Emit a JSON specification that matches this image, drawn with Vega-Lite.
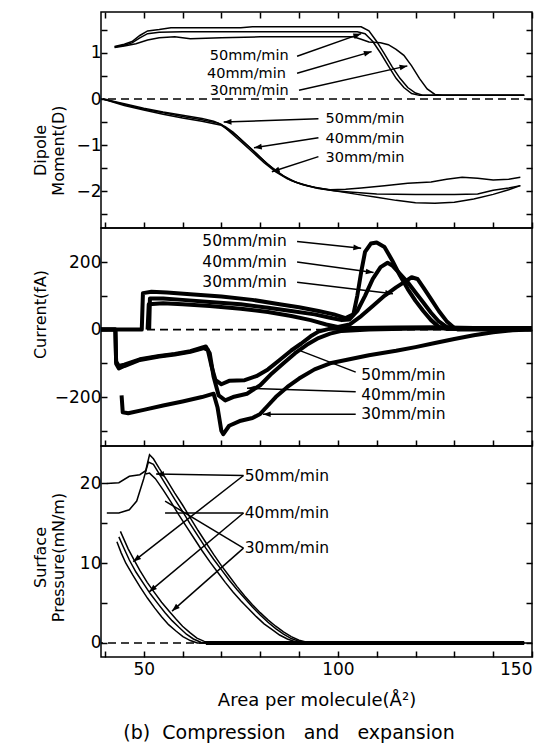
{
  "$schema": "https://vega.github.io/schema/vega-lite/v6.json",
  "autosize": {"type": "pad"},
  "padding": {"left": 31, "top": 10, "right": 10, "bottom": 10},
  "spacing": 0,
  "bounds": "flush",
  "title": {"text": "(b)\u00a0 Compression\u00a0\u00a0 and\u00a0\u00a0 expansion", "orient": "bottom", "anchor": "middle", "font": "DejaVu Sans", "fontSize": 19, "fontWeight": "normal", "color": "black", "offset": 14, "dx": 6},
  "datasets": {
    "dipole": [
      {"s":"u50","x":42.5,"y":1.13},{"s":"u50","x":45,"y":1.17},{"s":"u50","x":47,"y":1.22},{"s":"u50","x":49,"y":1.33},{"s":"u50","x":51,"y":1.42},{"s":"u50","x":54,"y":1.45},{"s":"u50","x":60,"y":1.46},{"s":"u50","x":80,"y":1.46},{"s":"u50","x":105,"y":1.46},{"s":"u50","x":107,"y":1.42},{"s":"u50","x":109,"y":1.25},{"s":"u50","x":111,"y":1.0},{"s":"u50","x":113,"y":0.72},{"s":"u50","x":115,"y":0.45},{"s":"u50","x":117,"y":0.25},{"s":"u50","x":119,"y":0.12},{"s":"u50","x":121,"y":0.08},{"s":"u50","x":148,"y":0.08},
      {"s":"u40","x":42.5,"y":1.14},{"s":"u40","x":45,"y":1.19},{"s":"u40","x":47,"y":1.25},{"s":"u40","x":49,"y":1.38},{"s":"u40","x":51,"y":1.48},{"s":"u40","x":54,"y":1.51},{"s":"u40","x":57,"y":1.55},{"s":"u40","x":75,"y":1.55},{"s":"u40","x":78,"y":1.57},{"s":"u40","x":106,"y":1.57},{"s":"u40","x":108,"y":1.48},{"s":"u40","x":110,"y":1.25},{"s":"u40","x":112,"y":0.98},{"s":"u40","x":114,"y":0.7},{"s":"u40","x":116,"y":0.45},{"s":"u40","x":118,"y":0.25},{"s":"u40","x":120,"y":0.13},{"s":"u40","x":122,"y":0.08},{"s":"u40","x":148,"y":0.08},
      {"s":"u30","x":42.5,"y":1.12},{"s":"u30","x":45,"y":1.15},{"s":"u30","x":48,"y":1.2},{"s":"u30","x":51,"y":1.28},{"s":"u30","x":54,"y":1.33},{"s":"u30","x":58,"y":1.35},{"s":"u30","x":62,"y":1.31},{"s":"u30","x":70,"y":1.33},{"s":"u30","x":80,"y":1.35},{"s":"u30","x":104,"y":1.35},{"s":"u30","x":106,"y":1.3},{"s":"u30","x":108,"y":1.24},{"s":"u30","x":111,"y":1.22},{"s":"u30","x":113,"y":1.18},{"s":"u30","x":115,"y":1.08},{"s":"u30","x":117,"y":0.95},{"s":"u30","x":119,"y":0.72},{"s":"u30","x":121,"y":0.45},{"s":"u30","x":123,"y":0.22},{"s":"u30","x":125,"y":0.1},{"s":"u30","x":127,"y":0.08},{"s":"u30","x":148,"y":0.08},
      {"s":"l50","x":39.5,"y":0},{"s":"l50","x":45,"y":-0.1},{"s":"l50","x":50,"y":-0.2},{"s":"l50","x":55,"y":-0.28},{"s":"l50","x":60,"y":-0.35},{"s":"l50","x":65,"y":-0.42},{"s":"l50","x":68,"y":-0.48},{"s":"l50","x":70,"y":-0.55},{"s":"l50","x":72,"y":-0.7},{"s":"l50","x":75,"y":-0.92},{"s":"l50","x":78,"y":-1.15},{"s":"l50","x":81,"y":-1.38},{"s":"l50","x":84,"y":-1.58},{"s":"l50","x":87,"y":-1.73},{"s":"l50","x":90,"y":-1.83},{"s":"l50","x":94,"y":-1.92},{"s":"l50","x":98,"y":-1.97},{"s":"l50","x":102,"y":-1.96},{"s":"l50","x":106,"y":-1.93},{"s":"l50","x":112,"y":-1.88},{"s":"l50","x":118,"y":-1.83},{"s":"l50","x":124,"y":-1.8},{"s":"l50","x":128,"y":-1.74},{"s":"l50","x":132,"y":-1.7},{"s":"l50","x":136,"y":-1.72},{"s":"l50","x":140,"y":-1.76},{"s":"l50","x":144,"y":-1.74},{"s":"l50","x":147,"y":-1.7},
      {"s":"l40","x":39.5,"y":0},{"s":"l40","x":45,"y":-0.12},{"s":"l40","x":50,"y":-0.22},{"s":"l40","x":55,"y":-0.3},{"s":"l40","x":60,"y":-0.38},{"s":"l40","x":65,"y":-0.45},{"s":"l40","x":69,"y":-0.52},{"s":"l40","x":71,"y":-0.6},{"s":"l40","x":73,"y":-0.72},{"s":"l40","x":76,"y":-0.95},{"s":"l40","x":79,"y":-1.18},{"s":"l40","x":82,"y":-1.42},{"s":"l40","x":85,"y":-1.62},{"s":"l40","x":88,"y":-1.77},{"s":"l40","x":91,"y":-1.86},{"s":"l40","x":95,"y":-1.94},{"s":"l40","x":99,"y":-1.99},{"s":"l40","x":103,"y":-2.02},{"s":"l40","x":110,"y":-2.06},{"s":"l40","x":120,"y":-2.07},{"s":"l40","x":130,"y":-2.07},{"s":"l40","x":136,"y":-2.06},{"s":"l40","x":140,"y":-1.98},{"s":"l40","x":144,"y":-1.93},{"s":"l40","x":147,"y":-1.88},
      {"s":"l30","x":39.5,"y":0},{"s":"l30","x":45,"y":-0.14},{"s":"l30","x":50,"y":-0.24},{"s":"l30","x":55,"y":-0.33},{"s":"l30","x":60,"y":-0.41},{"s":"l30","x":65,"y":-0.48},{"s":"l30","x":70,"y":-0.57},{"s":"l30","x":72,"y":-0.68},{"s":"l30","x":74,"y":-0.8},{"s":"l30","x":77,"y":-1.03},{"s":"l30","x":80,"y":-1.27},{"s":"l30","x":83,"y":-1.49},{"s":"l30","x":86,"y":-1.67},{"s":"l30","x":89,"y":-1.8},{"s":"l30","x":92,"y":-1.88},{"s":"l30","x":96,"y":-1.95},{"s":"l30","x":100,"y":-2.0},{"s":"l30","x":105,"y":-2.07},{"s":"l30","x":110,"y":-2.13},{"s":"l30","x":115,"y":-2.2},{"s":"l30","x":120,"y":-2.25},{"s":"l30","x":125,"y":-2.26},{"s":"l30","x":130,"y":-2.24},{"s":"l30","x":135,"y":-2.17},{"s":"l30","x":140,"y":-2.07},{"s":"l30","x":144,"y":-1.97},{"s":"l30","x":147,"y":-1.88}
    ],
    "current": [
      {"s":"e50","x":39,"y":0},{"s":"e50","x":42.7,"y":0},{"s":"e50","x":42.9,"y":-101},{"s":"e50","x":43.6,"y":-115},{"s":"e50","x":45,"y":-108},{"s":"e50","x":49,"y":-90},{"s":"e50","x":54,"y":-80},{"s":"e50","x":58,"y":-74},{"s":"e50","x":62,"y":-66},{"s":"e50","x":65.5,"y":-55},{"s":"e50","x":66.5,"y":-60},{"s":"e50","x":67.5,"y":-110},{"s":"e50","x":68.5,"y":-150},{"s":"e50","x":70,"y":-162},{"s":"e50","x":72,"y":-152},{"s":"e50","x":76,"y":-150},{"s":"e50","x":79,"y":-138},{"s":"e50","x":82,"y":-118},{"s":"e50","x":85,"y":-90},{"s":"e50","x":88,"y":-62},{"s":"e50","x":90.5,"y":-42},{"s":"e50","x":93,"y":-20},{"s":"e50","x":95,"y":-6},{"s":"e50","x":98,"y":3},{"s":"e50","x":104,"y":5},{"s":"e50","x":115,"y":6},{"s":"e50","x":125,"y":7},{"s":"e50","x":135,"y":5},{"s":"e50","x":150,"y":5},
      {"s":"e40","x":39,"y":0},{"s":"e40","x":42.7,"y":0},{"s":"e40","x":42.9,"y":-95},{"s":"e40","x":43.6,"y":-108},{"s":"e40","x":45,"y":-104},{"s":"e40","x":49,"y":-88},{"s":"e40","x":54,"y":-78},{"s":"e40","x":58,"y":-72},{"s":"e40","x":62,"y":-64},{"s":"e40","x":66,"y":-50},{"s":"e40","x":67,"y":-70},{"s":"e40","x":68,"y":-140},{"s":"e40","x":69.3,"y":-195},{"s":"e40","x":71,"y":-210},{"s":"e40","x":73,"y":-200},{"s":"e40","x":76.6,"y":-190},{"s":"e40","x":80,"y":-165},{"s":"e40","x":83,"y":-130},{"s":"e40","x":86,"y":-100},{"s":"e40","x":89,"y":-70},{"s":"e40","x":92,"y":-45},{"s":"e40","x":95,"y":-25},{"s":"e40","x":98,"y":-12},{"s":"e40","x":101,"y":-4},{"s":"e40","x":108,"y":0},{"s":"e40","x":120,"y":3},{"s":"e40","x":135,"y":4},{"s":"e40","x":150,"y":3},
      {"s":"e30","x":44.3,"y":-195},{"s":"e30","x":44.6,"y":-245},{"s":"e30","x":46,"y":-248},{"s":"e30","x":50,"y":-238},{"s":"e30","x":55,"y":-225},{"s":"e30","x":60,"y":-213},{"s":"e30","x":65,"y":-200},{"s":"e30","x":68,"y":-190},{"s":"e30","x":69,"y":-230},{"s":"e30","x":70,"y":-300},{"s":"e30","x":70.5,"y":-310},{"s":"e30","x":72,"y":-285},{"s":"e30","x":75,"y":-270},{"s":"e30","x":78,"y":-262},{"s":"e30","x":80,"y":-250},{"s":"e30","x":82,"y":-225},{"s":"e30","x":84,"y":-200},{"s":"e30","x":87,"y":-170},{"s":"e30","x":90,"y":-145},{"s":"e30","x":94,"y":-118},{"s":"e30","x":98,"y":-100},{"s":"e30","x":103,"y":-88},{"s":"e30","x":108,"y":-76},{"s":"e30","x":115,"y":-63},{"s":"e30","x":120,"y":-52},{"s":"e30","x":125,"y":-40},{"s":"e30","x":130,"y":-28},{"s":"e30","x":135,"y":-17},{"s":"e30","x":140,"y":-8},{"s":"e30","x":145,"y":-2},{"s":"e30","x":150,"y":0},
      {"s":"c50","x":39,"y":0},{"s":"c50","x":49.5,"y":0},{"s":"c50","x":49.8,"y":108},{"s":"c50","x":52,"y":112},{"s":"c50","x":56,"y":110},{"s":"c50","x":62,"y":105},{"s":"c50","x":70,"y":98},{"s":"c50","x":78,"y":88},{"s":"c50","x":85,"y":75},{"s":"c50","x":90,"y":66},{"s":"c50","x":95,"y":55},{"s":"c50","x":99,"y":45},{"s":"c50","x":102,"y":34},{"s":"c50","x":104,"y":45},{"s":"c50","x":105,"y":100},{"s":"c50","x":106,"y":170},{"s":"c50","x":107,"y":230},{"s":"c50","x":108.5,"y":255},{"s":"c50","x":110,"y":258},{"s":"c50","x":112,"y":245},{"s":"c50","x":114,"y":205},{"s":"c50","x":116,"y":160},{"s":"c50","x":118,"y":120},{"s":"c50","x":120,"y":85},{"s":"c50","x":122,"y":55},{"s":"c50","x":124,"y":28},{"s":"c50","x":126,"y":8},{"s":"c50","x":128,"y":2},{"s":"c50","x":135,"y":3},{"s":"c50","x":150,"y":3},
      {"s":"c40","x":51.4,"y":0},{"s":"c40","x":51.6,"y":92},{"s":"c40","x":55,"y":92},{"s":"c40","x":60,"y":88},{"s":"c40","x":67,"y":82},{"s":"c40","x":75,"y":75},{"s":"c40","x":82,"y":65},{"s":"c40","x":88,"y":55},{"s":"c40","x":94,"y":45},{"s":"c40","x":98,"y":35},{"s":"c40","x":101,"y":28},{"s":"c40","x":103,"y":30},{"s":"c40","x":105,"y":55},{"s":"c40","x":107,"y":100},{"s":"c40","x":109,"y":150},{"s":"c40","x":111,"y":185},{"s":"c40","x":112.8,"y":198},{"s":"c40","x":114,"y":190},{"s":"c40","x":116,"y":165},{"s":"c40","x":118,"y":140},{"s":"c40","x":120,"y":110},{"s":"c40","x":122,"y":80},{"s":"c40","x":124,"y":50},{"s":"c40","x":126,"y":24},{"s":"c40","x":128,"y":8},{"s":"c40","x":130,"y":2},{"s":"c40","x":150,"y":2},
      {"s":"c30","x":51,"y":0},{"s":"c30","x":51.3,"y":75},{"s":"c30","x":55,"y":78},{"s":"c30","x":60,"y":75},{"s":"c30","x":67,"y":70},{"s":"c30","x":75,"y":62},{"s":"c30","x":82,"y":52},{"s":"c30","x":88,"y":40},{"s":"c30","x":93,"y":28},{"s":"c30","x":97,"y":15},{"s":"c30","x":100,"y":8},{"s":"c30","x":103,"y":15},{"s":"c30","x":106,"y":40},{"s":"c30","x":109,"y":70},{"s":"c30","x":112,"y":100},{"s":"c30","x":115,"y":125},{"s":"c30","x":117,"y":140},{"s":"c30","x":119,"y":155},{"s":"c30","x":120.5,"y":150},{"s":"c30","x":122,"y":125},{"s":"c30","x":124,"y":90},{"s":"c30","x":126,"y":55},{"s":"c30","x":128,"y":25},{"s":"c30","x":130,"y":5},{"s":"c30","x":131,"y":0},{"s":"c30","x":150,"y":0}
    ],
    "pressure": [
      {"s":"pc50","x":40.5,"y":20},{"s":"pc50","x":43.6,"y":20.1},{"s":"pc50","x":46.3,"y":20.9},{"s":"pc50","x":49,"y":21.1},{"s":"pc50","x":50.5,"y":21.6},{"s":"pc50","x":51.5,"y":23.6},{"s":"pc50","x":52.5,"y":23.1},{"s":"pc50","x":54,"y":21.9},{"s":"pc50","x":56,"y":20.4},{"s":"pc50","x":58,"y":18.8},{"s":"pc50","x":60,"y":17.3},{"s":"pc50","x":62,"y":15.7},{"s":"pc50","x":64,"y":14.1},{"s":"pc50","x":66,"y":12.6},{"s":"pc50","x":68,"y":11.1},{"s":"pc50","x":70,"y":9.7},{"s":"pc50","x":72,"y":8.4},{"s":"pc50","x":74,"y":7.1},{"s":"pc50","x":76,"y":5.9},{"s":"pc50","x":78,"y":4.8},{"s":"pc50","x":80,"y":3.8},{"s":"pc50","x":82,"y":2.9},{"s":"pc50","x":84,"y":2.1},{"s":"pc50","x":86,"y":1.4},{"s":"pc50","x":88,"y":0.8},{"s":"pc50","x":90,"y":0.35},{"s":"pc50","x":92,"y":0.08},{"s":"pc50","x":94,"y":0},
      {"s":"pc40","x":40.5,"y":16.3},{"s":"pc40","x":43.6,"y":16.3},{"s":"pc40","x":46.3,"y":16.7},{"s":"pc40","x":48.2,"y":17.8},{"s":"pc40","x":50,"y":20.6},{"s":"pc40","x":51.2,"y":22.7},{"s":"pc40","x":52.5,"y":22.4},{"s":"pc40","x":54,"y":21.2},{"s":"pc40","x":56,"y":19.6},{"s":"pc40","x":58,"y":18},{"s":"pc40","x":60,"y":16.5},{"s":"pc40","x":62,"y":14.9},{"s":"pc40","x":64,"y":13.4},{"s":"pc40","x":66,"y":11.9},{"s":"pc40","x":68,"y":10.5},{"s":"pc40","x":70,"y":9.2},{"s":"pc40","x":72,"y":7.9},{"s":"pc40","x":74,"y":6.7},{"s":"pc40","x":76,"y":5.6},{"s":"pc40","x":78,"y":4.5},{"s":"pc40","x":80,"y":3.5},{"s":"pc40","x":82,"y":2.6},{"s":"pc40","x":84,"y":1.8},{"s":"pc40","x":86,"y":1.1},{"s":"pc40","x":88,"y":0.55},{"s":"pc40","x":90,"y":0.2},{"s":"pc40","x":92,"y":0},
      {"s":"pc30","x":50.5,"y":21.2},{"s":"pc30","x":51.5,"y":21.3},{"s":"pc30","x":53,"y":20.6},{"s":"pc30","x":55,"y":19.2},{"s":"pc30","x":57,"y":17.7},{"s":"pc30","x":59,"y":16.1},{"s":"pc30","x":61,"y":14.6},{"s":"pc30","x":63,"y":13.1},{"s":"pc30","x":65,"y":11.6},{"s":"pc30","x":67,"y":10.2},{"s":"pc30","x":69,"y":8.9},{"s":"pc30","x":71,"y":7.6},{"s":"pc30","x":73,"y":6.4},{"s":"pc30","x":75,"y":5.3},{"s":"pc30","x":77,"y":4.3},{"s":"pc30","x":79,"y":3.3},{"s":"pc30","x":81,"y":2.4},{"s":"pc30","x":83,"y":1.7},{"s":"pc30","x":85,"y":1.0},{"s":"pc30","x":87,"y":0.5},{"s":"pc30","x":89,"y":0.15},{"s":"pc30","x":91,"y":0},
      {"s":"pe1","x":44,"y":14},{"s":"pe1","x":45,"y":12.9},{"s":"pe1","x":46,"y":11.8},{"s":"pe1","x":47.3,"y":10.6},{"s":"pe1","x":49,"y":9.1},{"s":"pe1","x":50.9,"y":7.6},{"s":"pe1","x":52.5,"y":6.5},{"s":"pe1","x":54.6,"y":5.1},{"s":"pe1","x":56.5,"y":4},{"s":"pe1","x":58.3,"y":3},{"s":"pe1","x":60,"y":2.1},{"s":"pe1","x":61.9,"y":1.3},{"s":"pe1","x":63.7,"y":0.6},{"s":"pe1","x":65.6,"y":0.2},{"s":"pe1","x":67.4,"y":0},{"s":"pe1","x":148,"y":0},
      {"s":"pe2","x":43.6,"y":13.3},{"s":"pe2","x":44.7,"y":12.1},{"s":"pe2","x":46.3,"y":10.4},{"s":"pe2","x":48,"y":8.9},{"s":"pe2","x":50,"y":7.4},{"s":"pe2","x":51.8,"y":6.1},{"s":"pe2","x":53.7,"y":4.9},{"s":"pe2","x":55.5,"y":3.8},{"s":"pe2","x":57.3,"y":2.8},{"s":"pe2","x":59,"y":2},{"s":"pe2","x":61,"y":1.1},{"s":"pe2","x":62.8,"y":0.5},{"s":"pe2","x":64.7,"y":0.1},{"s":"pe2","x":66,"y":0},{"s":"pe2","x":148,"y":0},
      {"s":"pe3","x":43.1,"y":12.7},{"s":"pe3","x":44.2,"y":11.3},{"s":"pe3","x":45.4,"y":10},{"s":"pe3","x":47.2,"y":8.5},{"s":"pe3","x":49.1,"y":7},{"s":"pe3","x":51,"y":5.6},{"s":"pe3","x":52.8,"y":4.4},{"s":"pe3","x":54.6,"y":3.3},{"s":"pe3","x":56.4,"y":2.3},{"s":"pe3","x":58.3,"y":1.5},{"s":"pe3","x":60.1,"y":0.8},{"s":"pe3","x":62,"y":0.3},{"s":"pe3","x":63.8,"y":0},{"s":"pe3","x":148,"y":0}
    ],
    "pbase": [{"x":66,"y":0},{"x":148,"y":0}],
    "dip_text": [
      {"t":"50mm/min","x":67,"y":0.925},{"t":"40mm/min","x":66.3,"y":0.545},{"t":"30mm/min","x":67,"y":0.165},
      {"t":"50mm/min","x":96.8,"y":-0.43},{"t":"40mm/min","x":96.8,"y":-0.86},{"t":"30mm/min","x":96.8,"y":-1.28}
    ],
    "dip_arrows": [
      {"x":89.5,"y":0.93,"x2":106,"y2":1.42},{"x":89.5,"y":0.56,"x2":108.7,"y2":1.03},{"x":90,"y":0.19,"x2":117.9,"y2":0.72},
      {"x":95,"y":-0.43,"x2":70.6,"y2":-0.5},{"x":95,"y":-0.84,"x2":78.4,"y2":-1.06},{"x":95,"y":-1.25,"x2":83,"y2":-1.58}
    ],
    "dip_heads": [
      {"x":106,"y":1.42,"a":-19.4},{"x":108.7,"y":1.03,"a":-16.2},{"x":117.9,"y":0.72,"a":-12.7},
      {"x":70.6,"y":-0.5,"a":178.1},{"x":78.4,"y":-1.06,"a":171.1},{"x":83,"y":-1.58,"a":161.9}
    ],
    "cur_text": [
      {"t":"50mm/min","x":65.1,"y":261},{"t":"40mm/min","x":65.1,"y":200},{"t":"30mm/min","x":65.1,"y":140},
      {"t":"50mm/min","x":106,"y":-135},{"t":"40mm/min","x":106,"y":-193},{"t":"30mm/min","x":106,"y":-251}
    ],
    "cur_arrows": [
      {"x":89.5,"y":261,"x2":106,"y2":241},{"x":89.5,"y":200,"x2":109.2,"y2":169},{"x":89.5,"y":140,"x2":114.2,"y2":106},
      {"x":104.6,"y":-126,"x2":90.4,"y2":-63},{"x":104.6,"y":-184,"x2":76.6,"y2":-174},{"x":104.6,"y":-251,"x2":80.7,"y2":-251}
    ],
    "cur_heads": [
      {"x":106,"y":241,"a":6.0},{"x":109.2,"y":169,"a":7.8},{"x":114.2,"y":106,"a":6.8},
      {"x":76.6,"y":-174,"a":-178.2},{"x":80.7,"y":-251,"a":180}
    ],
    "pre_text": [
      {"t":"50mm/min","x":76,"y":21},{"t":"40mm/min","x":76,"y":16.3},{"t":"30mm/min","x":76,"y":11.9}
    ],
    "pre_arrows": [
      {"x":75.7,"y":21,"x2":53.2,"y2":21.2},{"x":75.7,"y":21,"x2":47.3,"y2":10.2},
      {"x":75.7,"y":16.3,"x2":55.5,"y2":16.3},{"x":75.7,"y":16.3,"x2":51.4,"y2":6.4},
      {"x":75.7,"y":11.9,"x2":55.5,"y2":17.8},{"x":75.7,"y":11.9,"x2":57.3,"y2":4}
    ],
    "pre_heads": [
      {"x":53.2,"y":21.2,"a":-179},{"x":47.3,"y":10.2,"a":142},{"x":51.4,"y":6.4,"a":140.1},{"x":57.3,"y":4,"a":138.6}
    ],
    "zero": [{"y":0}]
  },
  "vconcat": [
    {
      "width": 431, "height": 216,
      "resolve": {"axis": {"x": "independent", "y": "independent"}},
      "layer": [
        {"data": {"name": "zero"}, "mark": {"type": "rule", "color": "black", "strokeWidth": 1.6, "strokeDash": [8, 5]},
         "encoding": {"y": {"field": "y", "type": "quantitative", "scale": {"domain": [-2.8, 1.89], "nice": false, "zero": false},
           "axis": {"orient": "right", "values": [-2.5,-2,-1.5,-1,-0.5,0,0.5,1,1.5], "labels": false, "title": null}}}},
        {"data": {"name": "dipole"}, "mark": {"type": "line", "color": "black", "strokeWidth": 1.5},
         "encoding": {
           "x": {"field": "x", "type": "quantitative", "scale": {"domain": [39, 150], "nice": false, "zero": false},
             "axis": {"orient": "bottom", "values": [40,50,60,70,80,90,100,110,120,130,140,150], "labels": false, "title": null}},
           "y": {"field": "y", "type": "quantitative", "scale": {"domain": [-2.8, 1.89], "nice": false, "zero": false},
             "axis": {"orient": "left", "values": [-2.5,-2,-1.5,-1,-0.5,0,0.5,1,1.5], "labelExpr": "datum.value % 1 === 0 ? format(datum.value, 'd') : ''",
               "title": ["Dipole", "Moment(D)"], "titleX": -53, "titleY": 138, "titleBaseline": "bottom", "titleAlign": "center", "titleAngle": -90}},
           "detail": {"field": "s"}}},
        {"data": {"name": "dip_arrows"}, "mark": {"type": "rule", "color": "black", "strokeWidth": 1.5},
         "encoding": {
           "x": {"field": "x", "type": "quantitative", "scale": {"domain": [39, 150], "nice": false, "zero": false},
             "axis": {"orient": "top", "values": [40,50,60,70,80,90,100,110,120,130,140,150], "labels": false, "title": null}},
           "y": {"field": "y", "type": "quantitative", "axis": null},
           "x2": {"field": "x2"}, "y2": {"field": "y2"}}},
        {"data": {"name": "dip_heads"}, "mark": {"type": "point", "shape": "M0,0L-2.2,-0.8L-2.2,0.8Z", "filled": true, "color": "black", "opacity": 1, "size": 50},
         "encoding": {"x": {"field": "x", "type": "quantitative", "axis": null}, "y": {"field": "y", "type": "quantitative", "axis": null},
           "angle": {"field": "a", "type": "quantitative", "scale": null}}},
        {"data": {"name": "dip_text"}, "mark": {"type": "text", "align": "left", "baseline": "middle", "font": "DejaVu Sans", "fontSize": 14.5, "color": "black"},
         "encoding": {"x": {"field": "x", "type": "quantitative", "axis": null}, "y": {"field": "y", "type": "quantitative", "axis": null}, "text": {"field": "t"}}}
      ]
    },
    {
      "width": 431, "height": 218,
      "resolve": {"axis": {"x": "independent", "y": "independent"}},
      "layer": [
        {"data": {"name": "zero"}, "mark": {"type": "rule", "color": "black", "strokeWidth": 1.6, "strokeDash": [8, 5]},
         "encoding": {"y": {"field": "y", "type": "quantitative", "scale": {"domain": [-345, 301], "nice": false, "zero": false},
           "axis": {"orient": "right", "values": [-300,-200,-100,0,100,200], "labels": false, "title": null}}}},
        {"data": {"name": "current"}, "mark": {"type": "line", "color": "black", "strokeWidth": 4, "strokeJoin": "round"},
         "encoding": {
           "x": {"field": "x", "type": "quantitative", "scale": {"domain": [39, 150], "nice": false, "zero": false},
             "axis": {"orient": "bottom", "values": [40,50,60,70,80,90,100,110,120,130,140,150], "labels": false, "title": null}},
           "y": {"field": "y", "type": "quantitative", "scale": {"domain": [-345, 301], "nice": false, "zero": false},
             "axis": {"orient": "left", "values": [-300,-200,-100,0,100,200], "labelExpr": "datum.value % 200 === 0 ? format(datum.value, 'd') : ''",
               "title": ["Current(fA)"], "titleX": -53, "titleY": 86, "titleBaseline": "bottom", "titleAlign": "center", "titleAngle": -90}},
           "detail": {"field": "s"}}},
        {"data": {"name": "cur_arrows"}, "mark": {"type": "rule", "color": "black", "strokeWidth": 1.5},
         "encoding": {
           "x": {"field": "x", "type": "quantitative", "axis": null},
           "y": {"field": "y", "type": "quantitative", "axis": null},
           "x2": {"field": "x2"}, "y2": {"field": "y2"}}},
        {"data": {"name": "cur_heads"}, "mark": {"type": "point", "shape": "M0,0L-2.2,-0.8L-2.2,0.8Z", "filled": true, "color": "black", "opacity": 1, "size": 50},
         "encoding": {"x": {"field": "x", "type": "quantitative", "axis": null}, "y": {"field": "y", "type": "quantitative", "axis": null},
           "angle": {"field": "a", "type": "quantitative", "scale": null}}},
        {"data": {"name": "cur_text"}, "mark": {"type": "text", "align": "left", "baseline": "middle", "font": "DejaVu Sans", "fontSize": 15.5, "color": "black"},
         "encoding": {"x": {"field": "x", "type": "quantitative", "axis": null}, "y": {"field": "y", "type": "quantitative", "axis": null}, "text": {"field": "t"}}}
      ]
    },
    {
      "width": 431, "height": 211,
      "resolve": {"axis": {"x": "independent", "y": "independent"}},
      "layer": [
        {"data": {"name": "zero"}, "mark": {"type": "rule", "color": "black", "strokeWidth": 1.6, "strokeDash": [8, 5]},
         "encoding": {"y": {"field": "y", "type": "quantitative", "scale": {"domain": [-1.76, 24.7], "nice": false, "zero": false},
           "axis": {"orient": "right", "values": [0,5,10,15,20], "labels": false, "title": null}}}},
        {"data": {"name": "pbase"}, "mark": {"type": "line", "color": "black", "strokeWidth": 4},
         "encoding": {"x": {"field": "x", "type": "quantitative", "axis": null}, "y": {"field": "y", "type": "quantitative", "axis": null}}},
        {"data": {"name": "pressure"}, "mark": {"type": "line", "color": "black", "strokeWidth": 1.5},
         "encoding": {
           "x": {"field": "x", "type": "quantitative", "scale": {"domain": [39, 150], "nice": false, "zero": false},
             "axis": {"orient": "bottom", "values": [40,50,60,70,80,90,100,110,120,130,140,150], "labelExpr": "datum.value % 50 === 0 ? format(datum.value, 'd') : ''",
               "labelPadding": 10, "labelFontSize": 17, "title": "Area per molecule(Å²)", "titleFontSize": 18, "titlePadding": 14}},
           "y": {"field": "y", "type": "quantitative", "scale": {"domain": [-1.76, 24.7], "nice": false, "zero": false},
             "axis": {"orient": "left", "values": [0,5,10,15,20], "labelExpr": "datum.value % 10 === 0 ? format(datum.value, 'd') : ''",
               "title": ["Surface", "Pressure(mN/m)"], "titleX": -53, "titleY": 111, "titleBaseline": "bottom", "titleAlign": "center", "titleAngle": -90}},
           "detail": {"field": "s"}}},
        {"data": {"name": "pre_arrows"}, "mark": {"type": "rule", "color": "black", "strokeWidth": 1.5},
         "encoding": {
           "x": {"field": "x", "type": "quantitative", "axis": null},
           "y": {"field": "y", "type": "quantitative", "axis": null},
           "x2": {"field": "x2"}, "y2": {"field": "y2"}}},
        {"data": {"name": "pre_heads"}, "mark": {"type": "point", "shape": "M0,0L-2.2,-0.8L-2.2,0.8Z", "filled": true, "color": "black", "opacity": 1, "size": 50},
         "encoding": {"x": {"field": "x", "type": "quantitative", "axis": null}, "y": {"field": "y", "type": "quantitative", "axis": null},
           "angle": {"field": "a", "type": "quantitative", "scale": null}}},
        {"data": {"name": "pre_text"}, "mark": {"type": "text", "align": "left", "baseline": "middle", "font": "DejaVu Sans", "fontSize": 15.5, "color": "black"},
         "encoding": {"x": {"field": "x", "type": "quantitative", "axis": null}, "y": {"field": "y", "type": "quantitative", "axis": null}, "text": {"field": "t"}}}
      ]
    }
  ],
  "config": {
    "font": "DejaVu Sans",
    "view": {"stroke": "black", "strokeWidth": 1.5},
    "axis": {"domain": false, "grid": false, "ticks": true, "tickColor": "black", "tickSize": -6, "tickWidth": 1.5,
      "labelColor": "black", "labelFont": "DejaVu Sans", "labelFontSize": 17, "labelPadding": 6,
      "titleColor": "black", "titleFont": "DejaVu Sans", "titleFontSize": 16, "titleFontWeight": "normal"}
  }
}
